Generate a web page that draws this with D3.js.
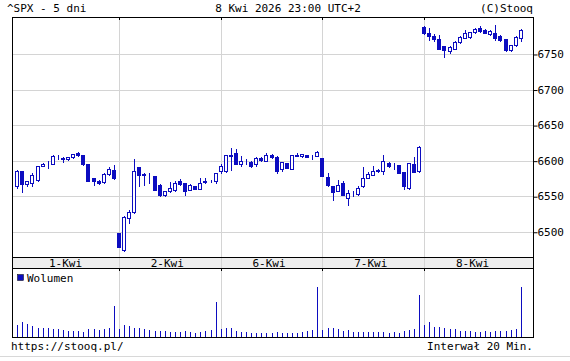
<!DOCTYPE html>
<html><head><meta charset="utf-8">
<script src="https://cdn.jsdelivr.net/npm/d3@7"></script>
<style>body{margin:0;background:#fff}svg{display:block}</style>
</head><body>
<svg id="c" width="570" height="361"></svg>
<script>
const title = "^SPX - 5 dni";
const dateText = "8 Kwi 2026 23:00 UTC+2";
const credit = "(C)Stooq";
const footLeft = "https://stooq.pl/";
const footRight = "Interwał 20 Min.";
const dayLabels = ["1-Kwi","2-Kwi","6-Kwi","7-Kwi","8-Kwi"];
const barsPerDay = 20;
const yTicks = [6500,6550,6600,6650,6700,6750];

const open = [
6563.8,6585.1,6567.1,6568.5,6573.3,6592.6,6596,6595.4,6605,6604,6602.5,6605,6610.6,6607.8,6594.6,6575.6,6571.9,6569.9,6581.3,6587.5,
6497.6,6474.1,6519.9,6528.4,6590.8,6580.4,6578,6578,6566.2,6551,6556.7,6559.1,6570.9,6568.5,6559.1,6563.8,6560.5,6570.5,6571,6571.9,
6585.1,6585.1,6606.4,6611,6594.6,6599.3,6598.3,6594.6,6604,6600.2,6607.8,6605,6588.9,6596,6588.9,6607,6606,6607.8,6606,6606.4,
6603.1,6576.6,6563.8,6557.7,6568.5,6547.2,6554.3,6552.9,6563.8,6575.6,6580.4,6586,6586.1,6596.8,6594.6,6593.2,6583.7,6561.4,6594.6,6585.1,
6788.3,6778.9,6775.5,6770.8,6760.9,6754.2,6757.6,6766.2,6772.7,6774.1,6780.3,6786.9,6784,6777.9,6778.9,6775.5,6770.8,6755.2,6762.3,6771.8];
const high = [
6587,6586,6572,6582.7,6593,6596,6599.3,6607.8,6607.8,6605,6605.5,6610,6612,6608,6595,6576,6572.5,6582,6590.8,6593.6,
6498,6522,6531.2,6601.7,6591.5,6582.7,6582.7,6578.5,6567,6558,6569.9,6570.9,6574.2,6569,6567,6564.5,6575.6,6575.6,6573,6583,
6594.6,6608.5,6617.3,6615.8,6606.4,6602.5,6599,6604.5,6605,6611,6609.6,6606,6598.5,6596.5,6608.5,6611,6609.5,6608.3,6607.5,6613,
6604,6582.7,6564.5,6573.3,6570.9,6559.1,6557.7,6564,6590.8,6584.7,6592.2,6588,6607.8,6597.5,6596,6593.5,6584,6597,6605,6620,
6790,6786.9,6777.5,6776.5,6761.5,6761,6768,6775,6783.6,6781,6787,6789,6785,6783.5,6790.7,6776.5,6771.5,6763,6775,6784.5];
const low = [
6562,6555.7,6564.8,6563.8,6572,6592,6589.8,6594.6,6602,6598.3,6601.5,6604,6606.4,6594,6571,6565.2,6567.5,6569,6580.5,6574.7,
6478,6473,6511.8,6527,6563.8,6566,6568.5,6558.5,6550.5,6550.5,6556,6556.7,6565.2,6552,6558.5,6560,6560,6568,6570,6568.5,
6582.7,6584.5,6587.5,6595,6592.2,6595.4,6590.8,6592,6600,6599.5,6604,6582.7,6585.1,6589,6588,6606.5,6605.5,6605,6603,6606,
6578.5,6565,6545,6557,6551.5,6537.9,6549.6,6552,6563,6575,6580,6584,6581.3,6591.5,6588.9,6582,6560.5,6560,6583.5,6584,
6778,6769.4,6768,6757,6745.7,6751.9,6757,6765.5,6772,6773,6779.5,6781.5,6779,6777,6770,6768,6754.5,6754.5,6761.5,6768];
const close = [
6586.1,6567.1,6571.9,6580.4,6592.2,6595.4,6596.5,6606.4,6605.5,6602,6604.5,6609.6,6607.8,6594.6,6571.9,6570.9,6568.5,6581.3,6588.9,6575.6,
6478.7,6521.3,6528.4,6585.1,6580.4,6580.9,6578.5,6559.1,6551,6557.7,6561.4,6568.5,6567.1,6556.7,6566.2,6560.5,6568.5,6571,6571.5,6582.7,
6592.2,6607.8,6607.8,6595.4,6600.2,6599.8,6592.2,6603.1,6600.7,6607.8,6605,6586.1,6597.8,6589.8,6607.8,6608,6608.7,6605.4,6606.5,6612.4,
6579,6566.2,6555.7,6566.2,6552,6554.3,6555,6561.4,6575.6,6581.3,6586.1,6586.5,6600.2,6592.2,6595,6582.7,6563.8,6596,6584.1,6619.1,
6778.9,6775.1,6770.8,6757.6,6755.2,6759.9,6767,6774.1,6778.9,6780.3,6785,6782.2,6779.5,6782.2,6771.8,6769.4,6755.2,6762.3,6774.1,6783.6];
const volume = [
11.7,15,12.7,10.7,9,9,9,8.3,8,6.7,6,6,6,5,8,8,7,8,9,30.7,
8,11.7,10.7,9,9,8,7,6,6,6,5,5,5,6,5,4.3,5.3,6.3,7.3,35,
8,9,9,6.3,5.3,5.3,4.3,4.3,4.3,4.3,4.3,5.3,4.3,4.3,4.3,4.3,5.3,6.3,7.3,50,
7.3,9,8.7,8,6.3,7.3,5.3,5.3,5.3,5.3,5.3,5.3,5,4,5,4,6,7,8,42,
12.3,15,10.3,9.7,8.7,7.7,7.7,6,6,6,5,5,6,5,6,6,6,7,8,50];

const blue = "#0c0cc0";
const grid = "#d4d4d4";
const font = "'DejaVu Sans Mono', monospace";
const L = 12, R = 533, T = 17, PB = 257, BB = 268, VB = 337;
const n = open.length;
const svg = d3.select("#c");
const px = v => Math.round(v) + 0.5;

const x = d3.scaleLinear().domain([-1.03, 101.4]).range([L, R]);
const y = d3.scaleLinear().domain([6464.5, 6802]).range([PB, T]);
const yv = d3.scaleLinear().domain([0, 69]).range([VB, BB]);

// header
svg.append("text").attr("x", 7).attr("y", 12).text(title);
svg.append("text").attr("x", 288).attr("y", 12).attr("text-anchor","middle").text(dateText);
svg.append("text").attr("x", 533).attr("y", 12).attr("text-anchor","end").text(credit);
svg.selectAll("text").attr("font-family", font).attr("font-size", 11).attr("fill", "#000");

// price grid
const gp = svg.append("g");
gp.selectAll("line.h").data(yTicks).join("line")
  .attr("x1", L).attr("x2", R).attr("y1", d => px(y(d))).attr("y2", d => px(y(d)))
  .attr("stroke", grid);
const bounds = d3.range(1, dayLabels.length).map(d => d * barsPerDay);
[[T, PB],[BB, VB]].forEach(([a,b]) => {
  svg.append("g").selectAll("line").data(bounds).join("line")
    .attr("x1", d => px(x(d))).attr("x2", d => px(x(d))).attr("y1", a).attr("y2", b)
    .attr("stroke", grid);
  svg.append("g").selectAll("line").data(bounds).join("line")
    .attr("x1", d => px(x(d))).attr("x2", d => px(x(d))).attr("y1", a).attr("y2", a+3)
    .attr("stroke", "#000");
});

// date band
svg.append("rect").attr("x", L).attr("y", PB).attr("width", R-L).attr("height", BB-PB).attr("fill", "#eeeeee");
svg.append("g").selectAll("line").data(bounds).join("line")
  .attr("x1", d => px(x(d))).attr("x2", d => px(x(d))).attr("y1", PB).attr("y2", BB).attr("stroke", grid);
svg.append("g").selectAll("text").data(dayLabels).join("text")
  .attr("x", (d,i) => x(i*barsPerDay + 9.5)).attr("y", 266.5).attr("text-anchor","middle")
  .attr("font-family", font).attr("font-size", 11).text(d => d);

// y axis
const ya = svg.append("g").attr("transform", `translate(${R+0.5},0)`)
  .call(d3.axisRight(y).tickValues(yTicks).tickSize(4).tickFormat(d3.format("d")));
ya.select(".domain").remove();
ya.selectAll("line").attr("stroke","#000").attr("transform","translate(0,0.5)");
ya.selectAll("text").attr("font-family", font).attr("font-size", 11).attr("x", 4).attr("fill","#000");

// candles
const idx = d3.range(n);
const cg = svg.append("g");
cg.selectAll("line").data(idx).join("line")
  .attr("x1", i => px(x(i))).attr("x2", i => px(x(i)))
  .attr("y1", i => Math.round(y(high[i]))).attr("y2", i => Math.round(y(low[i])) + 1)
  .attr("stroke", blue);
cg.selectAll("rect").data(idx).join("rect")
  .attr("x", i => Math.round(x(i)) - 1.5)
  .attr("width", 3)
  .attr("y", i => Math.round(y(Math.max(open[i], close[i]))) + 0.5)
  .attr("height", i => Math.max(0, Math.round(y(Math.min(open[i], close[i]))) - Math.round(y(Math.max(open[i], close[i])))))
  .attr("fill", i => close[i] >= open[i] ? "#fff" : blue)
  .attr("stroke", blue);

// volume
svg.append("g").selectAll("line").data(idx).join("line")
  .attr("x1", i => px(x(i))).attr("x2", i => px(x(i)))
  .attr("y1", VB).attr("y2", i => Math.round(yv(volume[i])))
  .attr("stroke", blue);
svg.append("rect").attr("x", 17.5).attr("y", 274.5).attr("width", 6).attr("height", 6).attr("fill", blue).attr("stroke", "#000").attr("stroke-width", 0.5);
svg.append("text").attr("x", 27).attr("y", 281.5).attr("font-family", font).attr("font-size", 11).text("Wolumen");

// frames
const fr = svg.append("g").attr("fill","none").attr("stroke","#000");
fr.append("rect").attr("x", L+0.5).attr("y", T+0.5).attr("width", R-L).attr("height", VB-T);
fr.append("line").attr("x1", L).attr("x2", R).attr("y1", PB+0.5).attr("y2", PB+0.5);
fr.append("line").attr("x1", L).attr("x2", R).attr("y1", BB+0.5).attr("y2", BB+0.5);

// footer
svg.append("text").attr("x", 11).attr("y", 350).attr("font-family", font).attr("font-size", 11).text(footLeft);
svg.append("text").attr("x", 533).attr("y", 350).attr("text-anchor","end").attr("font-family", font).attr("font-size", 11).text(footRight);
svg.append("line").attr("x1", 0).attr("x2", 570).attr("y1", 356.5).attr("y2", 356.5).attr("stroke", "#d8d8d8");
</script>
</body></html>
